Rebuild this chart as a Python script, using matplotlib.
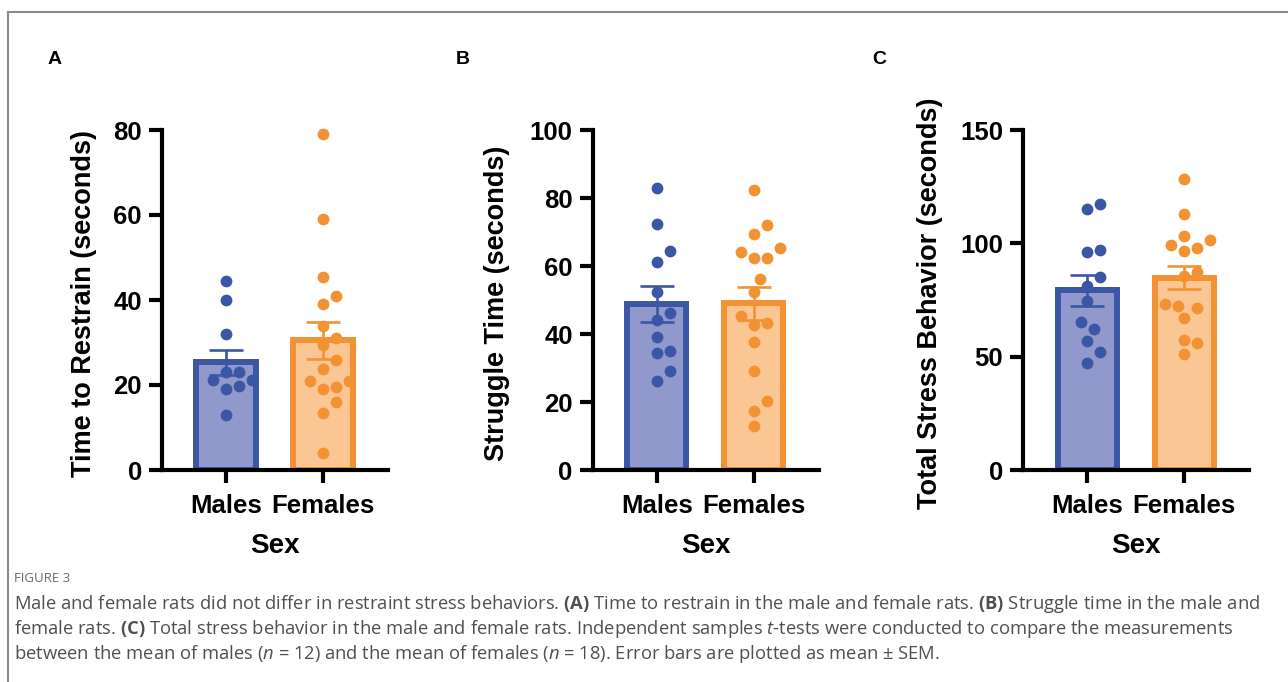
import numpy as np
import matplotlib
matplotlib.use('Agg')
import matplotlib.pyplot as plt
from matplotlib.lines import Line2D

plt.rcParams['font.family'] = ['Liberation Sans', 'DejaVu Sans']

groups = ['Males', 'Females']

# A: time to restrain (seconds)
restrain_m = [44.4, 39.9, 31.9, 23.0, 23.0, 21.2, 21.2, 19.8, 19.0, 12.9]
restrain_f = [79.0, 59.0, 45.3, 40.9, 39.0, 33.9, 31.1, 29.3, 26.0, 23.7,
              20.9, 20.9, 19.6, 19.0, 15.9, 13.3, 3.9]
restrain_mean = [25.3, 30.5]
restrain_sem = [2.9, 4.4]

# B: struggle time (seconds)
struggle_m = [83.0, 72.4, 64.4, 61.3, 52.3, 46.3, 44.1, 39.2, 35.0, 34.3, 29.1, 26.2]
struggle_f = [82.4, 72.1, 69.3, 65.2, 64.2, 62.3, 62.3, 56.2, 52.5, 45.4,
              43.1, 42.6, 37.7, 29.1, 20.3, 17.4, 12.9]
struggle_mean = [48.8, 49.0]
struggle_sem = [5.2, 4.9]

# C: total stress behavior (seconds)
total_m = [117.3, 115.1, 97.1, 96.3, 85.3, 81.3, 74.7, 65.1, 62.0, 57.0, 51.9, 47.1]
total_f = [128.2, 112.9, 103.4, 101.5, 99.3, 98.1, 96.8, 87.5, 85.6, 73.2,
           72.3, 71.3, 66.9, 57.3, 55.9, 51.2]
total_mean = [79.2, 84.9]
total_sem = [6.9, 5.2]

fill_colors = ['#9198cb', '#fac694']
line_colors = ['#3b56a5', '#f39232']

W, H = 1288, 682
fig = plt.figure(figsize=(W / 100, H / 100), dpi=100)


def px_box(left, bottom, right, top):
    return [left / W, 1 - bottom / H, (right - left) / W, (bottom - top) / H]


def swarm_x(ax, x0, vals, d=13.0):
    """Simple beeswarm: spread dots sideways (in pixels) so they don't overlap."""
    tr = ax.transData
    ppu = tr.transform((1, 0))[0] - tr.transform((0, 0))[0]
    ys = [tr.transform((x0, v))[1] for v in vals]
    order = np.argsort(ys)
    placed = []
    xs = np.zeros(len(vals))
    for i in order:
        y = ys[i]
        for k in range(60):
            cands = [0.0] if k == 0 else [k * 0.5 * d, -k * 0.5 * d]
            ok = None
            for dx in cands:
                if all((dx - px) ** 2 + (y - py) ** 2 >= d * d for px, py in placed):
                    ok = dx
                    break
            if ok is not None:
                placed.append((ok, y))
                xs[i] = x0 + ok / ppu
                break
    return xs


def panel(left, ymax, ystep, ylabel, lab_x, data_m, data_f, means, sems, letter, letter_x):
    ax = fig.add_axes(px_box(left, 470, left + 226, 130))
    ax.set_xlim(-0.66, 1.67)
    ax.set_ylim(0, ymax)
    pos = np.arange(len(groups))
    ax.bar(pos, means, width=0.61, color=fill_colors, edgecolor=line_colors,
           linewidth=4.3, zorder=2)
    for i in range(2):
        ax.errorbar(pos[i], means[i], yerr=sems[i], color=line_colors[i],
                    elinewidth=1.9, capsize=12, capthick=1.9, zorder=3)
    for i, vals in enumerate([data_m, data_f]):
        xs = swarm_x(ax, pos[i], vals)
        ax.scatter(xs, vals, s=72, color=line_colors[i], linewidths=0, zorder=4,
                   clip_on=False)
    for s in ['top', 'right']:
        ax.spines[s].set_visible(False)
    for s in ['left', 'bottom']:
        ax.spines[s].set_linewidth(3)
    ax.spines['bottom'].set_zorder(5)
    ax.set_yticks(np.arange(0, ymax + 1, ystep))
    ax.set_xticks(pos)
    ax.set_xticklabels(groups)
    ax.tick_params(length=9.4, width=3, labelsize=18.5)
    ax.tick_params(axis='x', pad=8)
    ax.tick_params(axis='y', pad=5)
    for t in ax.get_xticklabels() + ax.get_yticklabels():
        t.set_fontweight('bold')
    ax.set_xlabel('Sex', fontsize=20, fontweight='bold', labelpad=11)
    ax.text(lab_x, 0.49, ylabel, rotation=90, ha='center', va='center',
            fontsize=19.5, fontweight='bold', transform=ax.transAxes)
    fig.text(letter_x / W, 1 - 60 / H, letter, fontsize=14, fontweight='bold',
             ha='center', va='center')
    return ax


panel(162, 80, 20, 'Time to Restrain (seconds)', -0.345,
      restrain_m, restrain_f, restrain_mean, restrain_sem, 'A', 55)
panel(592.7, 100, 20, 'Struggle Time (seconds)', -0.423,
      struggle_m, struggle_f, struggle_mean, struggle_sem, 'B', 463)
panel(1023.3, 150, 50, 'Total Stress Behavior (seconds)', -0.413,
      total_m, total_f, total_mean, total_sem, 'C', 879)

# frame lines (top and left only, the rest is cropped)
fig.add_artist(Line2D([8 / W, 1], [1 - 12 / H, 1 - 12 / H], color='#8a8a8a', lw=1.5))
fig.add_artist(Line2D([8 / W, 8 / W], [0, 1 - 12 / H], color='#8a8a8a', lw=1.5))

# caption
cap_font = 'Open Sans'
plt.rcParams['mathtext.fontset'] = 'custom'
plt.rcParams['mathtext.rm'] = cap_font
plt.rcParams['mathtext.it'] = cap_font + ':italic'
plt.rcParams['mathtext.bf'] = cap_font + ':bold'

fig.text(14 / W, 1 - 578 / H, 'FIGURE 3', fontsize=9.5, color='#6a6a6a',
         family=cap_font, va='center')
caption = [
    r'Male and female rats did not differ in restraint stress behaviors. $\mathbf{(A)}$ Time to restrain in the male and female rats. $\mathbf{(B)}$ Struggle time in the male and',
    r'female rats. $\mathbf{(C)}$ Total stress behavior in the male and female rats. Independent samples $t$-tests were conducted to compare the measurements',
    r'between the mean of males ($n$ = 12) and the mean of females ($n$ = 18). Error bars are plotted as mean $\pm$ SEM.',
]
cap_texts = []
for k, line in enumerate(caption):
    t = fig.text(14 / W, 1 - (604 + 25 * k) / H, line, fontsize=12, color='#505050',
                 family=cap_font, va='center')
    cap_texts.append(t)

# scale caption size so the first line spans the same width as in the figure
r = fig.canvas.get_renderer()
w0 = cap_texts[0].get_window_extent(r).width
for t in cap_texts:
    t.set_fontsize(12 * 1244 / w0)

fig.savefig('out.png', dpi=100)
